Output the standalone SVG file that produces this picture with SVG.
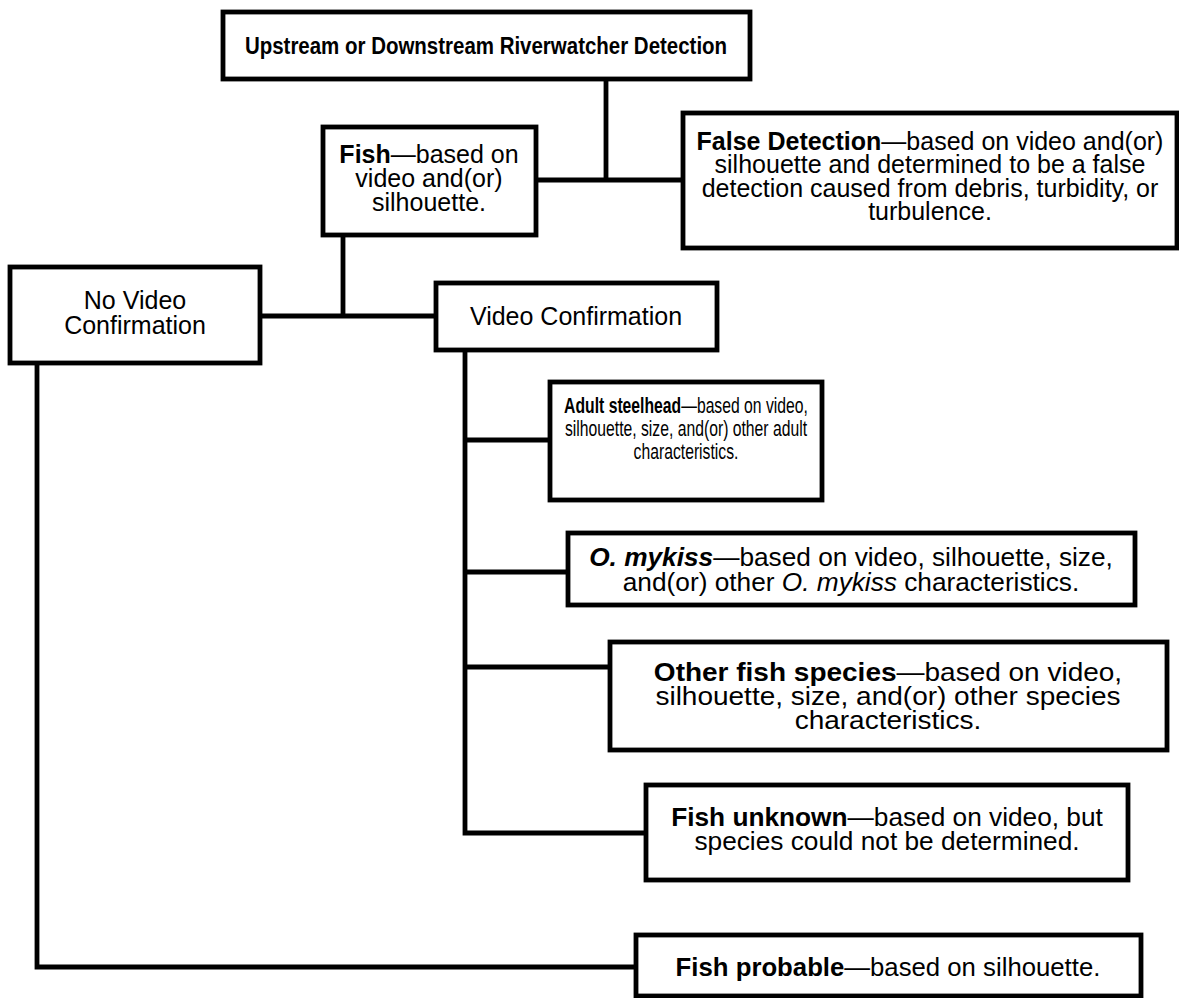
<svg xmlns="http://www.w3.org/2000/svg" width="1179" height="998" viewBox="0 0 1179 998">
<style>
.box{fill:#fff;stroke:#000;stroke-width:4.8}
.ln{fill:none;stroke:#000;stroke-width:4.8;stroke-linecap:square}
text{font-family:"Liberation Sans",Arial,sans-serif;font-size:25px;fill:#000;text-anchor:middle}
.b{font-weight:bold}
.i{font-style:italic}
.t{font-size:23px}
.s22{font-size:22px}
</style>
<rect width="1179" height="998" fill="#fff"/>
<g id="connectors">
<path class="ln" d="M606,79 V180 M537,180 H683"/>
<path class="ln" d="M343,236 V316 M260,316 H436"/>
<path class="ln" d="M465,350 V833 H646 M465,440 H548 M465,572 H568 M465,667 H610"/>
<path class="ln" d="M37,363 V967 H636"/>
</g>
<g id="title">
<rect class="box" x="223" y="12" width="527" height="67"/>
<g transform="translate(486 0) scale(0.89 1)">
<text x="0" y="54" class="b t">Upstream or Downstream Riverwatcher Detection</text>
</g>
</g>
<g id="fish">
<rect class="box" x="323" y="127" width="213" height="108"/>
<text x="429" y="163"><tspan class="b">Fish</tspan>—based on</text>
<text x="429" y="187">video and(or)</text>
<text x="429" y="211">silhouette.</text>
</g>
<g id="false">
<rect class="box" x="683" y="113" width="494" height="135"/>
<text x="930" y="150"><tspan class="b">False Detection</tspan>—based on video and(or)</text>
<text x="930" y="173">silhouette and determined to be a false</text>
<text x="930" y="197">detection caused from debris, turbidity, or</text>
<text x="930" y="220">turbulence.</text>
</g>
<g id="novideo">
<rect class="box" x="10" y="267" width="250" height="96"/>
<text x="135" y="309">No Video</text>
<text x="135" y="334">Confirmation</text>
</g>
<g id="videoconf">
<rect class="box" x="436" y="283" width="281" height="67"/>
<text x="576" y="325">Video Confirmation</text>
</g>
<g id="adult">
<rect class="box" x="550" y="382" width="272" height="118"/>
<g transform="translate(686 0) scale(0.715 1)">
<text x="0" y="413" class="s22"><tspan class="b">Adult steelhead</tspan>—based on video,</text>
<text x="0" y="436" class="s22">silhouette, size, and(or) other adult</text>
<text x="0" y="459" class="s22">characteristics.</text>
</g>
</g>
<g id="mykiss">
<rect class="box" x="568" y="533" width="567" height="72"/>
<g transform="translate(851 0) scale(1.05 1)">
<text x="0" y="566"><tspan class="b i">O. mykiss</tspan>—based on video, silhouette, size,</text>
<text x="0" y="591">and(or) other <tspan class="i">O. mykiss</tspan> characteristics.</text>
</g>
</g>
<g id="otherfish">
<rect class="box" x="610" y="642" width="557" height="108"/>
<g transform="translate(888 0) scale(1.12 1)">
<text x="0" y="681"><tspan class="b">Other fish species</tspan>—based on video,</text>
<text x="0" y="705">silhouette, size, and(or) other species</text>
<text x="0" y="729">characteristics.</text>
</g>
</g>
<g id="fishunknown">
<rect class="box" x="646" y="785" width="482" height="95"/>
<g transform="translate(887 0) scale(1.05 1)">
<text x="0" y="826"><tspan class="b">Fish unknown</tspan>—based on video, but</text>
<text x="0" y="850">species could not be determined.</text>
</g>
</g>
<g id="fishprobable">
<rect class="box" x="636" y="935" width="505" height="61"/>
<g transform="translate(888 0) scale(1.03 1)">
<text x="0" y="976"><tspan class="b">Fish probable</tspan>—based on silhouette.</text>
</g>
</g>
</svg>
